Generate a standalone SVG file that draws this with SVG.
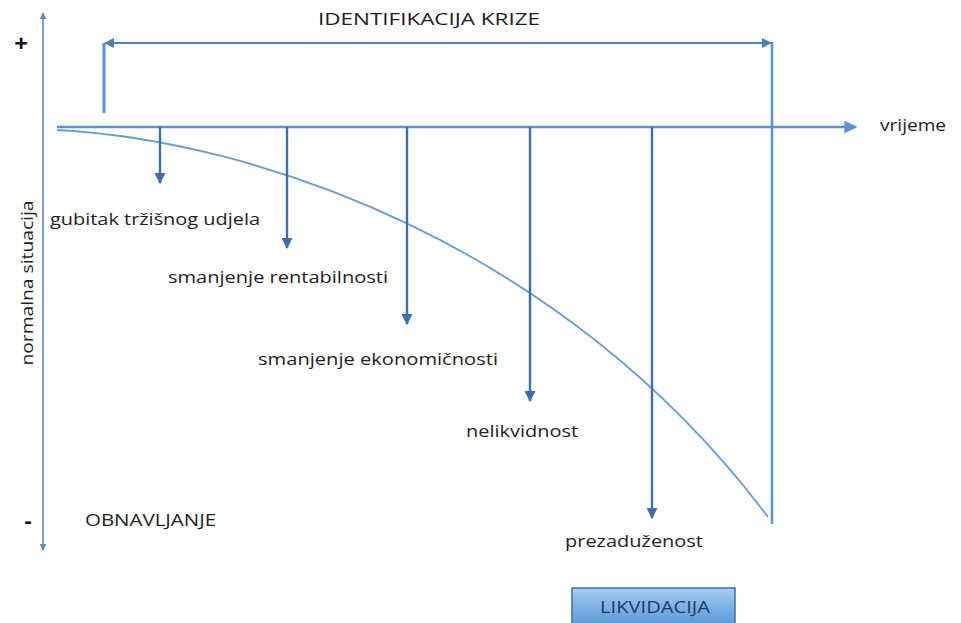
<svg xmlns="http://www.w3.org/2000/svg" width="961" height="623" viewBox="0 0 961 623">
  <defs>
    <style>
      .lbl { font-family: "Open Sans", "Noto Sans", "DejaVu Sans", sans-serif; font-size: 16px; fill: #1e1e1e; }
      .axis { stroke: #5b8ac4; stroke-width: 1.6; fill: none; }
      .drop { stroke: #3f6fab; stroke-width: 2.4; fill: none; }
      .brk { stroke: #5b94d0; fill: none; }
    </style>
    <marker id="ahAxis" viewBox="0 0 10 10" refX="9" refY="5" markerWidth="7" markerHeight="7" markerUnits="userSpaceOnUse" orient="auto">
      <path d="M0,0 L10,5 L0,10 z" fill="#5b8ac4"/>
    </marker>
    <marker id="ahTime" viewBox="0 0 10 10" refX="9" refY="5" markerWidth="13" markerHeight="13" markerUnits="userSpaceOnUse" orient="auto">
      <path d="M0,0 L10,5 L0,10 z" fill="#5b94d0"/>
    </marker>
    <marker id="ahDrop" viewBox="0 0 10 10" refX="9" refY="5" markerWidth="11" markerHeight="11" markerUnits="userSpaceOnUse" orient="auto">
      <path d="M0,0 L10,5 L0,10 z" fill="#3f6fab"/>
    </marker>
    <marker id="ahBrk" viewBox="0 0 10 10" refX="9" refY="5" markerWidth="10" markerHeight="10" markerUnits="userSpaceOnUse" orient="auto">
      <path d="M0,0 L10,5 L0,10 z" fill="#4f7fb5"/>
    </marker>
    <linearGradient id="gBox" x1="0" y1="0" x2="0" y2="1">
      <stop offset="0" stop-color="#a9cdf0"/>
      <stop offset="0.5" stop-color="#7fb2e5"/>
      <stop offset="1" stop-color="#5f9bd8"/>
    </linearGradient>
  </defs>

  <rect width="961" height="623" fill="#ffffff"/>

  <g id="connectors">
    <line class="axis" x1="43" y1="300" x2="43" y2="13" marker-end="url(#ahAxis)"/>
    <line class="axis" x1="43" y1="300" x2="43" y2="550" marker-end="url(#ahAxis)"/>
    <line x1="57" y1="127" x2="856" y2="127" stroke="#5b94d0" stroke-width="2.4" marker-end="url(#ahTime)"/>
    <path d="M57,130 C250,140 560,240 768,517" fill="none" stroke="#6a9ed2" stroke-width="1.8"/>
    <line class="brk" x1="104" y1="113" x2="104" y2="43" stroke-width="3.2"/>
    <line x1="440" y1="43" x2="105" y2="43" stroke="#4f7fb5" stroke-width="1.8" marker-end="url(#ahBrk)"/>
    <line x1="440" y1="43" x2="771" y2="43" stroke="#4f7fb5" stroke-width="1.8" marker-end="url(#ahBrk)"/>
    <line class="brk" x1="772" y1="42" x2="772" y2="524" stroke-width="2.6"/>
    <line class="drop" x1="160" y1="127" x2="160" y2="183" marker-end="url(#ahDrop)"/>
    <line class="drop" x1="287" y1="127" x2="287" y2="248" marker-end="url(#ahDrop)"/>
    <line class="drop" x1="407" y1="127" x2="407" y2="324" marker-end="url(#ahDrop)"/>
    <line class="drop" x1="530" y1="127" x2="530" y2="401" marker-end="url(#ahDrop)"/>
    <line class="drop" x1="652" y1="127" x2="652" y2="518" marker-end="url(#ahDrop)"/>
  </g>

  <g id="identifikacija">
    <text class="lbl" x="318" y="25" textLength="222" lengthAdjust="spacingAndGlyphs" style="font-size:16.5px">IDENTIFIKACIJA KRIZE</text>
  </g>
  <g id="plus"><text class="lbl" x="21" y="52" text-anchor="middle" style="font-size:24px;font-weight:bold;fill:#111">+</text></g>
  <g id="minus"><text class="lbl" x="28" y="528" text-anchor="middle" style="font-size:22px;font-weight:bold;fill:#111">-</text></g>
  <g id="vrijeme"><text class="lbl" x="880" y="131" textLength="66" lengthAdjust="spacingAndGlyphs">vrijeme</text></g>
  <g id="normalna"><text class="lbl" transform="translate(33,283) rotate(-90)" text-anchor="middle" textLength="165" lengthAdjust="spacingAndGlyphs">normalna situacija</text></g>
  <g id="gubitak"><text class="lbl" x="50" y="225" textLength="210" lengthAdjust="spacingAndGlyphs">gubitak tržišnog udjela</text></g>
  <g id="rentabilnost"><text class="lbl" x="168" y="283" textLength="220" lengthAdjust="spacingAndGlyphs">smanjenje rentabilnosti</text></g>
  <g id="ekonomicnost"><text class="lbl" x="258" y="365" textLength="240" lengthAdjust="spacingAndGlyphs">smanjenje ekonomičnosti</text></g>
  <g id="nelikvidnost"><text class="lbl" x="466" y="437" textLength="112" lengthAdjust="spacingAndGlyphs">nelikvidnost</text></g>
  <g id="prezaduzenost"><text class="lbl" x="565" y="547" textLength="138" lengthAdjust="spacingAndGlyphs">prezaduženost</text></g>
  <g id="obnavljanje"><text class="lbl" x="85" y="526" textLength="131" lengthAdjust="spacingAndGlyphs">OBNAVLJANJE</text></g>

  <g id="likvidacija">
    <rect x="572" y="588" width="163" height="36" fill="url(#gBox)" stroke="#3d6fa6" stroke-width="1.5"/>
    <text x="600" y="613" textLength="110" lengthAdjust="spacingAndGlyphs" font-family="Open Sans, Noto Sans, sans-serif" font-size="16" fill="#1f3a66">LIKVIDACIJA</text>
  </g>
</svg>
